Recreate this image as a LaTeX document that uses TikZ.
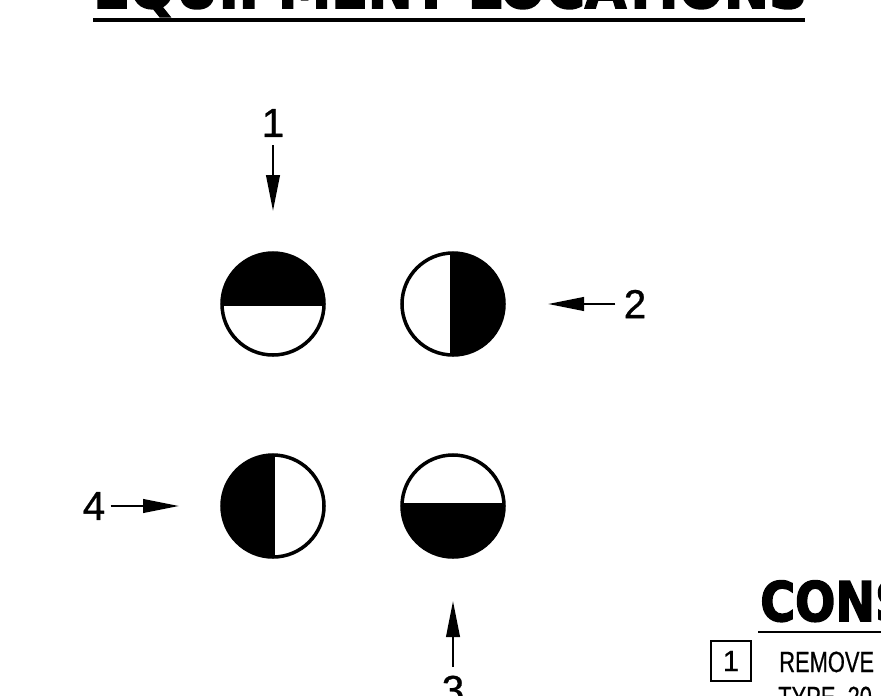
\documentclass[tikz,border=0pt]{standalone}
\usepackage{fontspec}
\usepackage{xcolor}
\setmainfont{Liberation Sans}[FakeBold=0.7]
\newfontfamily\heavyfont{DejaVu Sans}[BoldFeatures={FakeBold=3}]
\usetikzlibrary{arrows.meta}

\tikzset{
    callout/.style={font=\fontsize{23}{23}\selectfont, inner sep=0pt, outer sep=0.17cm},
    pointer/.style={line width=1.4pt, -{Triangle[length=0.72cm,width=0.27cm]}},
    valve/.style={circle, draw, line width=2pt, minimum size=2.04cm, inner sep=0pt, path picture={#1}},
    heading/.style={font=\heavyfont\bfseries, inner sep=0pt, anchor=base west, xscale=0.87},
    note/.style={font=\fontsize{16.6}{16.6}\selectfont, inner sep=0pt, anchor=base west, xscale=0.75},
    rulebar/.style={line width=2pt}
}

\begin{document}
\begin{tikzpicture}
    \useasboundingbox (0,0) rectangle (17.62,13.9);
    \clip (0,0) rectangle (17.62,13.9);
    \fill[white] (0,0) rectangle (17.62,13.9);
    % title and its rule
    \node[heading, xscale=1.03, font=\heavyfont\bfseries\fontsize{34}{34}\selectfont] (title) at (1.86,13.74) {EQUIPMENT LOCATIONS};
    \coordinate (titleL) at (1.86,13.5);
    \coordinate (titleR) at (16.1,13.5);
    \draw[rulebar] (titleL) -- (titleR);
    % half filled circles
    \node[valve={\fill (path picture bounding box.north west) rectangle ([yshift=-0.04cm]path picture bounding box.east);}] (top) at (5.46,7.82) {};
    \node[valve={\fill ([xshift=-0.06cm]path picture bounding box.north) rectangle (path picture bounding box.south east);}] (right) at (9.06,7.82) {};
    \node[valve={\fill (path picture bounding box.north west) rectangle ([xshift=0.04cm]path picture bounding box.south);}] (left) at (5.46,3.78) {};
    \node[valve={\fill ([yshift=0.06cm]path picture bounding box.west) rectangle (path picture bounding box.south east);}] (bottom) at (9.06,3.78) {};
    % callouts
    \node[callout] (num1) at (5.46,11.44) {1};
    \node[callout] (num2) at (12.7,7.82) {2};
    \node[callout] (num3) at (9.06,0.1) {3};
    \node[callout, outer sep=0.11cm] (num4) at (1.88,3.78) {4};
    \coordinate (tip1) at (5.46,9.68);
    \coordinate (tip2) at (10.96,7.82);
    \coordinate (tip3) at (9.06,1.88);
    \coordinate (tip4) at (3.58,3.78);
    \draw[pointer] (num1) -- (tip1);
    \draw[pointer] (num2) -- (tip2);
    \draw[pointer] (num3) -- (tip3);
    \draw[pointer] (num4) -- (tip4);
    % notes corner
    \node[heading, font=\heavyfont\bfseries\fontsize{31}{31}\selectfont] (cons) at (15.2,1.48) {CONS};
    \coordinate (consL) at (15.16,1.26);
    \coordinate (consR) at (17.62,1.26);
    \draw[rulebar, line width=1.4pt] (consL) -- (consR);
    \node[draw, line width=1.5pt, minimum size=0.8cm, inner sep=0pt, font=\fontsize{16.6}{16.6}\selectfont] (item1) at (14.62,0.68) {1};
    \node[note] (line1) at (15.58,0.46) {REMOVE};
    \node[note] (line2) at (15.56,-0.24) {TYPE\ \ 20};
\end{tikzpicture}
\end{document}
